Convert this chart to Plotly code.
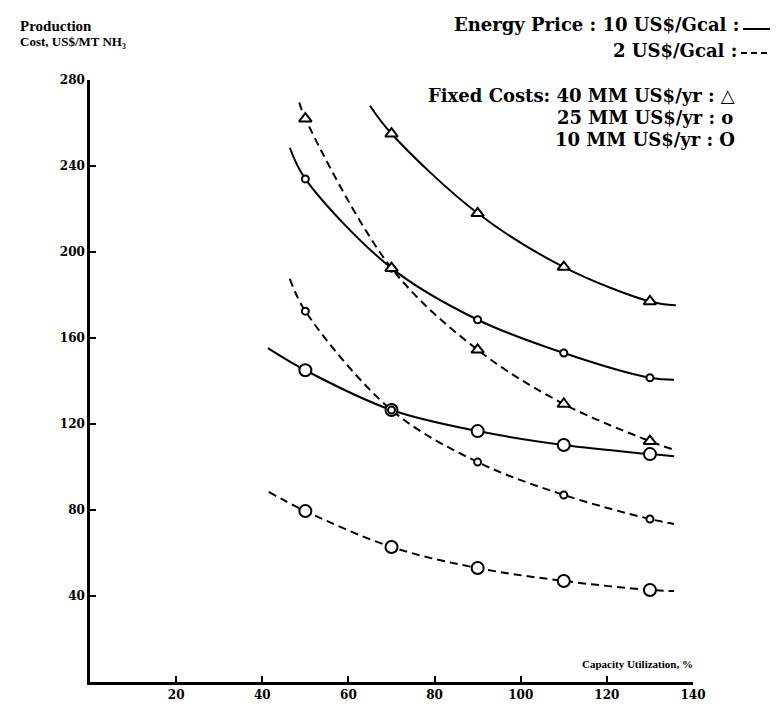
import plotly.graph_objects as go

# ---- data ----
utilization = [50, 70, 90, 110, 130]

# energy price 10 US$/Gcal (solid)
cost_hi_40 = [None, 255, 218, 193, 177]
cost_hi_25 = [234, 192.5, 168.5, 153, 141.5]
cost_hi_10 = [145, 126.5, 116.7, 110.2, 106]
# energy price 2 US$/Gcal (dashed)
cost_lo_40 = [262, 192.5, 154.5, 129.3, 112]
cost_lo_25 = [172.5, 126.5, 102.3, 87, 75.8]
cost_lo_10 = [79.5, 62.8, 53, 47, 42.8]

# extent of each drawn curve
curve_start_x = [65, 46.4, 41.3, 48.6, 46.4, 41.5]
curve_start_y = [268, 248.5, 155.3, 269.5, 187.5, 88.4]
curve_end_x = [136, 135.6, 135.6, 135.6, 135.6, 135.6]
curve_end_y = [175.2, 140.6, 105, 108, 73.5, 42.3]

x_ticks = [20, 40, 60, 80, 100, 120, 140]
y_ticks = [40, 80, 120, 160, 200, 240, 280]

series = [cost_hi_40, cost_hi_25, cost_hi_10, cost_lo_40, cost_lo_25, cost_lo_10]
dashes = ["solid", "solid", "solid", "8px,5px", "8px,5px", "8px,5px"]
symbols = ["triangle-up", "circle", "circle", "triangle-up", "circle", "circle"]
msizes = [11, 7, 12, 11, 7, 12]

fig = go.Figure()

for i, vals in enumerate(series):
    xs = [curve_start_x[i]] + [u for u, v in zip(utilization, vals) if v is not None] + [curve_end_x[i]]
    ys = [curve_start_y[i]] + [v for v in vals if v is not None] + [curve_end_y[i]]
    fig.add_trace(go.Scatter(
        x=xs, y=ys, mode="lines",
        line=dict(color="black", width=2, dash=dashes[i], shape="spline", smoothing=1.0),
        showlegend=False, hoverinfo="skip"))

for i, vals in enumerate(series):
    xs = [u for u, v in zip(utilization, vals) if v is not None]
    ys = [v for v in vals if v is not None]
    fig.add_trace(go.Scatter(
        x=xs, y=ys, mode="markers",
        marker=dict(symbol=symbols[i], size=msizes[i], color="white",
                    line=dict(color="black", width=2)),
        showlegend=False))

W, H = 779, 705
L, R, T, B = 82, 94, 72, 31
pw, ph = W - L - R, H - T - B


def px(xp):
    return (xp - L) / pw


def py(yp):
    return (H - B - yp) / ph


serif = "Liberation Serif"
dv = "DejaVu Serif"
ann = []
ann.append(dict(text="Production", x=px(10), y=py(18), xanchor="left", yanchor="middle",
                font=dict(family=serif, size=15, color="black", weight="bold")))
ann.append(dict(text="Cost, US$/MT NH₃", x=px(10), y=py(34), xanchor="left", yanchor="middle",
                font=dict(family=serif, size=13, color="black", weight="bold")))
leg_font = dict(family=dv, size=18, color="black", weight="bold")
ann.append(dict(text="Energy Price : 10 US$/Gcal :", x=px(733), y=py(17), xanchor="right", yanchor="middle", font=leg_font))
ann.append(dict(text="2 US$/Gcal :", x=px(731), y=py(42), xanchor="right", yanchor="middle", font=leg_font))
ann.append(dict(text="Fixed Costs: 40 MM US$/yr : △", x=px(729), y=py(88), xanchor="right", yanchor="middle", font=leg_font))
ann.append(dict(text="25 MM US$/yr : o", x=px(727), y=py(110), xanchor="right", yanchor="middle", font=leg_font))
ann.append(dict(text="10 MM US$/yr : O", x=px(729), y=py(131), xanchor="right", yanchor="middle", font=leg_font))
ann.append(dict(text="Capacity Utilization, %", x=px(687), y=py(656), xanchor="right", yanchor="middle",
                font=dict(family=serif, size=11, color="black", weight="bold")))
for a in ann:
    a.update(xref="paper", yref="paper", showarrow=False)

shapes = [
    dict(type="line", xref="paper", yref="paper", x0=px(735), x1=px(762), y0=py(21), y1=py(21),
         line=dict(color="black", width=2)),
    dict(type="line", xref="paper", yref="paper", x0=px(733), x1=px(762), y0=py(45), y1=py(45),
         line=dict(color="black", width=2, dash="6px,4px")),
]

tick_font = dict(family=dv, size=12, color="black", weight="bold")
fig.update_layout(
    width=W, height=H,
    margin=dict(l=L, r=R, t=T, b=B),
    paper_bgcolor="white", plot_bgcolor="white",
    annotations=ann, shapes=shapes,
    xaxis=dict(range=[0, 140], tickvals=x_ticks, showline=True, linecolor="black", linewidth=2.5,
               ticks="inside", ticklen=6, tickwidth=2, tickcolor="black", showgrid=False,
               zeroline=False, tickfont=tick_font, mirror=False),
    yaxis=dict(range=[0, 280], tickvals=y_ticks, showline=True, linecolor="black", linewidth=2.5,
               ticks="inside", ticklen=6, tickwidth=2, tickcolor="black", showgrid=False,
               zeroline=False, tickfont=tick_font, mirror=False),
)

fig.write_html("out.html")
